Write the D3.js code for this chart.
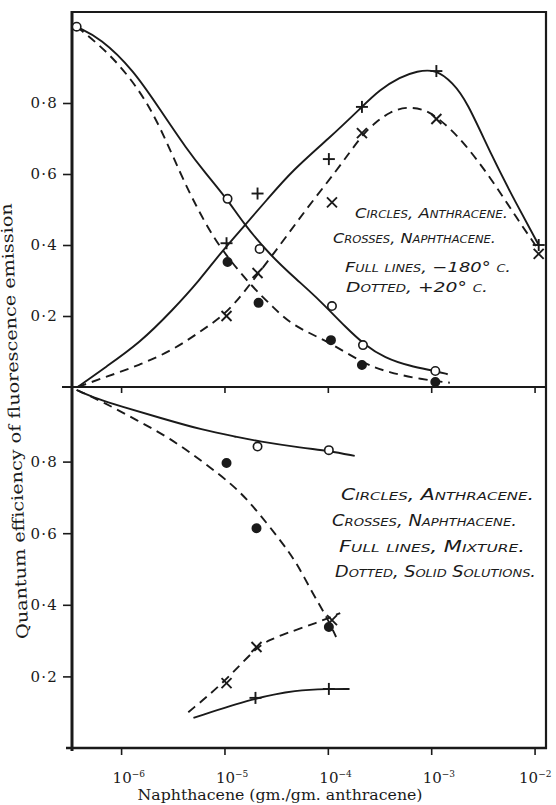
<!DOCTYPE html>
<html>
<head>
<meta charset="UTF-8" />
<title>Quantum efficiency of fluorescence emission</title>
<script src="https://cdn.jsdelivr.net/npm/d3@7"></script>
<style>
  body { margin: 0; background: #fff; }
  text { fill: #1a1a1a; }
  .tick text { font-family: "DejaVu Serif", serif; font-size: 15px; }
  .tick line { stroke: #1a1a1a; stroke-width: 1.6; }
  .note {
    font-family: "DejaVu Sans", sans-serif;
    font-style: oblique;
    font-variant: small-caps;
  }
</style>
</head>
<body>
<svg id="chart" width="556" height="805"></svg>
<script>
// x values are log10 of naphthacene concentration (gm./gm. anthracene)
const xTicks = [-6, -5, -4, -3, -2];
const yTicks = [0.2, 0.4, 0.6, 0.8];

// upper panel: full lines -180 C, dotted +20 C
const upAnthOpen = [[-6.43, 1.015], [-4.97, 0.53], [-4.66, 0.389], [-3.96, 0.228], [-3.66, 0.118], [-2.96, 0.045]];
const upAnthFilled = [[-4.97, 0.352], [-4.67, 0.237], [-3.97, 0.132], [-3.67, 0.062], [-2.96, 0.014]];
const upNaphPlus = [[-4.98, 0.405], [-4.68, 0.545], [-3.99, 0.642], [-3.67, 0.789], [-2.95, 0.89], [-1.96, 0.40]];
const upNaphCross = [[-4.98, 0.20], [-4.68, 0.321], [-3.96, 0.52], [-3.67, 0.715], [-2.95, 0.755], [-1.96, 0.375]];

const upAnthFull = [[-6.43, 1.015], [-6.20, 0.983], [-5.88, 0.893], [-5.62, 0.78], [-5.36, 0.668], [-5.19, 0.605],
  [-4.97, 0.528], [-4.82, 0.462], [-4.56, 0.372], [-4.30, 0.302], [-4.08, 0.245], [-3.82, 0.166], [-3.64, 0.118],
  [-3.45, 0.082], [-3.21, 0.059], [-2.96, 0.045], [-2.84, 0.036]];
const upAnthDotted = [[-6.43, 1.015], [-6.11, 0.94], [-5.82, 0.837], [-5.62, 0.732], [-5.43, 0.603], [-5.27, 0.507],
  [-5.11, 0.423], [-4.95, 0.358], [-4.73, 0.282], [-4.53, 0.225], [-4.34, 0.172], [-3.99, 0.128], [-3.66, 0.066],
  [-3.40, 0.040], [-3.10, 0.022], [-2.82, 0.012]];
const upNaphFull = [[-6.42, 0.0], [-6.15, 0.056], [-5.82, 0.124], [-5.50, 0.217], [-5.24, 0.301], [-5.04, 0.377],
  [-4.82, 0.45], [-4.59, 0.527], [-4.34, 0.611], [-3.99, 0.70], [-3.67, 0.789], [-3.50, 0.837], [-3.30, 0.873],
  [-3.14, 0.89], [-2.95, 0.895], [-2.79, 0.856], [-2.66, 0.808], [-2.41, 0.648], [-2.18, 0.518], [-1.96, 0.40]];
const upNaphDotted = [[-6.42, 0.0], [-6.15, 0.028], [-5.82, 0.062], [-5.50, 0.104], [-5.24, 0.155], [-5.04, 0.195],
  [-4.90, 0.235], [-4.75, 0.29], [-4.46, 0.40], [-4.20, 0.505], [-3.91, 0.611], [-3.67, 0.71], [-3.54, 0.745],
  [-3.40, 0.775], [-3.24, 0.79], [-3.06, 0.782], [-2.92, 0.755], [-2.70, 0.696], [-2.41, 0.583], [-2.18, 0.479],
  [-1.96, 0.386]];

// lower panel: full lines mixture, dotted solid solutions
const lowAnthOpen = [[-4.68, 0.842], [-3.99, 0.832]];
const lowAnthFilled = [[-4.98, 0.796], [-4.69, 0.614], [-3.99, 0.338]];
const lowNaphCross = [[-4.98, 0.181], [-4.69, 0.282], [-3.96, 0.357]];
const lowNaphPlus = [[-4.70, 0.14], [-3.99, 0.165]];

const lowAnthFull = [[-6.43, 1.0], [-6.23, 0.975], [-6.01, 0.955], [-5.62, 0.922], [-5.21, 0.888], [-4.88, 0.869],
  [-4.68, 0.857], [-4.24, 0.838], [-3.99, 0.83], [-3.74, 0.816]];
const lowAnthDotted = [[-6.43, 1.0], [-6.17, 0.966], [-5.85, 0.916], [-5.53, 0.866], [-5.21, 0.80], [-4.92, 0.735],
  [-4.74, 0.682], [-4.46, 0.581], [-4.30, 0.517], [-4.15, 0.433], [-4.01, 0.366], [-3.92, 0.31]];
const lowNaphDotted = [[-5.35, 0.10], [-5.01, 0.181], [-4.69, 0.282], [-4.56, 0.302], [-4.40, 0.321], [-4.11, 0.349], [-3.88, 0.377]];
const lowNaphFull = [[-5.30, 0.084], [-4.71, 0.14], [-4.30, 0.162], [-4.00, 0.165], [-3.79, 0.165]];

const upNotes = ['Circles, Anthracene.', 'Crosses, Naphthacene.', 'Full lines, \u2212180\u00b0 c.', 'Dotted, +20\u00b0 c.'];
const lowNotes = ['Circles, Anthracene.', 'Crosses, Naphthacene.', 'Full lines, Mixture.', 'Dotted, Solid Solutions.'];

const ink = '#1a1a1a';
const svg = d3.select('#chart');

const x = d3.scaleLog().domain([3.35e-7, 1.29e-2]).range([72, 546]);
const yUp = d3.scaleLinear().domain([0, 1]).range([387, 32]);
const yLow = d3.scaleLinear().domain([0, 1]).range([748, 390]);
const px = d => x(10 ** d[0]);

function drawCurve(g, y, data, dashed) {
  const line = d3.line().x(px).y(d => y(d[1])).curve(d3.curveBasis);
  g.append('path')
    .attr('d', line(data))
    .attr('fill', 'none')
    .attr('stroke', ink)
    .attr('stroke-width', 1.9)
    .attr('stroke-dasharray', dashed ? '9,6' : null);
}

function drawMarks(g, y, data, kind) {
  const sel = g.selectAll(null).data(data).join('g')
    .attr('transform', d => `translate(${px(d)},${y(d[1])})`);
  if (kind === 'open' || kind === 'filled') {
    sel.append('circle').attr('r', 4.2)
      .attr('fill', kind === 'open' ? '#fff' : ink)
      .attr('stroke', ink).attr('stroke-width', 1.6);
  } else {
    const a = kind === 'plus' ? 6 : 5;
    const segs = kind === 'plus' ? [[-a, 0, a, 0], [0, -a, 0, a]] : [[-a, -a, a, a], [-a, a, a, -a]];
    segs.forEach(s => sel.append('line')
      .attr('x1', s[0]).attr('y1', s[1]).attr('x2', s[2]).attr('y2', s[3])
      .attr('stroke', ink).attr('stroke-width', 1.9));
  }
}

const yFmt = d => d3.format('.1f')(d).replace('.', '\u00b7');
function yAxis(y) {
  const g = svg.append('g').attr('transform', 'translate(72,0)')
    .call(d3.axisLeft(y).tickValues(yTicks).tickSize(9).tickPadding(5).tickFormat(yFmt));
  g.select('.domain').remove();
  g.selectAll('.tick text').attr('letter-spacing', 1.2);
}
yAxis(yUp);
yAxis(yLow);

// divider between the panels, ticks only
const mid = svg.append('g').attr('transform', 'translate(0,387)')
  .call(d3.axisBottom(x).tickValues(xTicks.map(e => 10 ** e)).tickSize(6).tickFormat(''));
mid.select('.domain').remove();

// bottom axis, labels 10^n built from tspans
const bot = svg.append('g').attr('transform', 'translate(0,748)')
  .call(d3.axisBottom(x).tickValues(xTicks.map(e => 10 ** e)).tickSize(7).tickPadding(0).tickFormat(''));
bot.select('.domain').remove();
bot.selectAll('.tick text').data(xTicks)
  .attr('text-anchor', 'start')
  .attr('x', e => (e === -2 ? -16 : -9))   // last label tucked in at the page edge
  .attr('y', 35).attr('dy', null)
  .each(function (e) {
    const t = d3.select(this);
    t.append('tspan').attr('font-size', 15).text('10');
    t.append('tspan').attr('dy', -6).attr('font-size', 9).text('\u2212' + Math.abs(e));
  });

// frame
const frame = [
  [72, 11, 72, 751, 3],
  [71, 12, 547, 12, 2],
  [546, 11, 546, 749, 2.2],
  [66, 748, 547, 748, 2.6],
  [62, 387, 547, 387, 2.2]
];
svg.append('g').selectAll('line').data(frame).join('line')
  .attr('x1', d => d[0]).attr('y1', d => d[1]).attr('x2', d => d[2]).attr('y2', d => d[3])
  .attr('stroke', ink).attr('stroke-width', d => d[4]);

// upper panel
const up = svg.append('g');
drawCurve(up, yUp, upAnthFull, false);
drawCurve(up, yUp, upAnthDotted, true);
drawCurve(up, yUp, upNaphFull, false);
drawCurve(up, yUp, upNaphDotted, true);
drawMarks(up, yUp, upAnthOpen, 'open');
drawMarks(up, yUp, upAnthFilled, 'filled');
drawMarks(up, yUp, upNaphPlus, 'plus');
drawMarks(up, yUp, upNaphCross, 'cross');

// lower panel
const low = svg.append('g');
drawCurve(low, yLow, lowAnthFull, false);
drawCurve(low, yLow, lowAnthDotted, true);
drawCurve(low, yLow, lowNaphFull, false);
drawCurve(low, yLow, lowNaphDotted, true);
drawMarks(low, yLow, lowAnthOpen, 'open');
drawMarks(low, yLow, lowAnthFilled, 'filled');
drawMarks(low, yLow, lowNaphCross, 'cross');
drawMarks(low, yLow, lowNaphPlus, 'plus');

// hand-lettered keys: [x, baseline, length]
const upPos = [[355, 218, 153], [333, 243, 163], [345, 272, 166], [346, 292, 142]];
const lowPos = [[341, 500, 193], [332, 526, 185], [339, 552, 186], [335, 577, 201]];
function notes(lines, pos, size) {
  svg.append('g').selectAll('text').data(lines).join('text')
    .attr('class', 'note')
    .attr('x', (d, i) => pos[i][0]).attr('y', (d, i) => pos[i][1])
    .attr('font-size', size)
    .attr('textLength', (d, i) => pos[i][2])
    .attr('lengthAdjust', 'spacingAndGlyphs')
    .text(d => d);
}
notes(upNotes, upPos, 14);
notes(lowNotes, lowPos, 15);

// axis titles
svg.append('text')
  .attr('transform', 'translate(20,421) rotate(-92.2)')
  .attr('text-anchor', 'middle')
  .attr('textLength', 436)
  .attr('lengthAdjust', 'spacingAndGlyphs')
  .style('font-family', '"DejaVu Serif", serif').style('font-size', '16px')
  .text('Quantum efficiency of fluorescence emission');
svg.append('text')
  .attr('x', 280).attr('y', 800)
  .attr('text-anchor', 'middle')
  .attr('textLength', 285)
  .attr('lengthAdjust', 'spacingAndGlyphs')
  .style('font-family', '"DejaVu Serif", serif').style('font-size', '15px')
  .text('Naphthacene (gm./gm. anthracene)');
</script>
</body>
</html>
